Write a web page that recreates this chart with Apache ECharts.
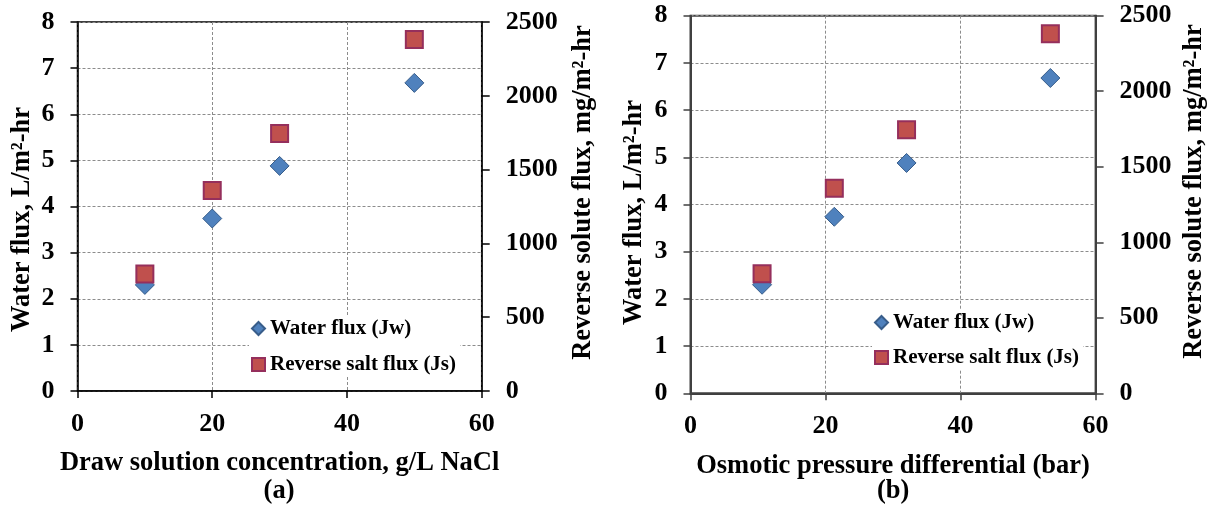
<!DOCTYPE html>
<html>
<head>
<meta charset="utf-8">
<script src="https://cdn.jsdelivr.net/npm/echarts@6/dist/echarts.min.js"></script>
<style>
html,body{margin:0;padding:0;background:#fff;}
#c{width:1212px;height:508px;}
</style>
</head>
<body>
<div id="c"></div>
<script>
// ---- data ----
var concentrationA = [10, 20, 30, 50];          // g/L NaCl
var osmoticB = [10.6, 21.3, 32.0, 53.3];        // bar
var waterFlux = [2.3, 3.74, 4.88, 6.68];        // L/m2-hr
var saltFlux = [792, 1358, 1745, 2381];         // mg/m2-hr
var seriesNames = ['Water flux (Jw)', 'Reverse salt flux (Js)'];
var xTitles = ['Draw solution concentration, g/L NaCl', 'Osmotic pressure differential (bar)'];
var panelLabels = ['(a)', '(b)'];
var yLeftTitle = 'Water flux, L/m\u00B2-hr';
var yRightTitle = 'Reverse solute flux, mg/m\u00B2-hr';

var FONT = '"Liberation Serif", "Times New Roman", serif';
function pairs(xs, ys){ return xs.map(function(x,i){ return [x, ys[i]]; }); }

var chart = echarts.init(document.getElementById('c'), null, {renderer:'canvas'});

var axisStyles = [
  {color:'#000', width:1.5},
  {color:'#404040', width:2}
];
var grids = [
  {left:77.5, right:1212-481.7, top:22, bottom:508-391},
  {left:690.5, right:1212-1095.6, top:15.7, bottom:508-393.3}
];
// per-panel title placement tweaks
var leftGap = [42, 43], rightGap = [88, 85];
var leftPad = [[0, 26, 0, 0], [0, 16, 0, 0]];
var rightPad = [[0, 0, 0, 28], [0, 0, 0, 26]];

var splitDash = {show:true, lineStyle:{color:'#8c8c8c', type:[3,2], width:1}};
var tickLabel = {fontFamily:FONT, fontWeight:'bold', fontSize:26, color:'#000'};
function titleText(pad){
  return {fontFamily:FONT, fontWeight:'bold', fontSize:26.5, color:'#000', padding:pad || 0};
}

var xAxes = [], yAxes = [];
[0,1].forEach(function(g){
  var ls = axisStyles[g];
  xAxes.push({
    type:'value', gridIndex:g, min:0, max:60, interval:20,
    axisLine:{show:true, onZero:false, lineStyle:{color:ls.color, width:ls.width}},
    axisTick:{show:true, inside:false, length:7, lineStyle:{color:ls.color, width:1.5}},
    axisLabel:Object.assign({margin:20}, tickLabel),
    splitLine:splitDash,
    name:xTitles[g], nameLocation:'middle', nameGap:59,
    nameTextStyle:titleText()
  });
  yAxes.push({
    type:'value', gridIndex:g, position:'left', min:0, max:8, interval:1,
    axisLine:{show:true, onZero:false, lineStyle:{color:ls.color, width:ls.width}},
    axisTick:{show:true, length:7, lineStyle:{color:ls.color, width:1.5}},
    axisLabel:Object.assign({margin:23}, tickLabel),
    splitLine:splitDash,
    name:yLeftTitle, nameLocation:'middle', nameRotate:90, nameGap:leftGap[g],
    nameTextStyle:titleText(leftPad[g])
  });
  yAxes.push({
    type:'value', gridIndex:g, position:'right', min:0, max:2500, interval:500,
    axisLine:{show:true, onZero:false, lineStyle:{color:ls.color, width:ls.width}},
    axisTick:{show:true, length:8, lineStyle:{color:ls.color, width:1.5}},
    axisLabel:Object.assign({margin:24, formatter:function(v){ return String(v); }}, tickLabel),
    splitLine:{show:false},
    name:yRightTitle, nameLocation:'middle', nameRotate:90, nameGap:rightGap[g],
    nameTextStyle:titleText(rightPad[g])
  });
});

var diamondStyle = {color:'#4F81BD', borderColor:'#385D8A', borderWidth:1, opacity:1};
var squareStyle = {color:'#C0504D', borderColor:'#952F5C', borderWidth:2, opacity:1};
var xData = [concentrationA, osmoticB];
var series = [];
[0,1].forEach(function(g){
  series.push({
    name:seriesNames[0], type:'scatter', xAxisIndex:g, yAxisIndex:g*2,
    symbol:'diamond', symbolSize:19, itemStyle:diamondStyle,
    data:pairs(xData[g], waterFlux), z:2
  });
  series.push({
    name:seriesNames[1], type:'scatter', xAxisIndex:g, yAxisIndex:g*2+1,
    symbol:'rect', symbolSize:17, itemStyle:squareStyle,
    data:pairs(xData[g], saltFlux), z:3
  });
});

var legendText = {fontFamily:FONT, fontWeight:'bold', fontSize:21, color:'#000'};
function legendAt(left, top, gap){
  return {orient:'vertical', left:left, top:top, itemGap:gap, itemWidth:13, itemHeight:13,
    textStyle:legendText, data:[{name:seriesNames[0], icon:'diamond'},{name:seriesNames[1], icon:'rect'}],
    selectedMode:false, backgroundColor:'#fff', padding:[2,4,2,2]};
}
chart.setOption({
  animation:false,
  backgroundColor:'#fff',
  grid:[
    Object.assign({show:true, borderColor:'#000', borderWidth:1.5, backgroundColor:'transparent'}, grids[0]),
    Object.assign({show:true, borderColor:'#404040', borderWidth:2, backgroundColor:'transparent'}, grids[1])
  ],
  xAxis:xAxes,
  yAxis:yAxes,
  legend:[legendAt(249, 316, 15), legendAt(872, 310, 14)],
  graphic:[
    {type:'text', left:279.6-16, top:478, style:{text:panelLabels[0], font:'bold 26.5px ' + FONT, fill:'#000'}},
    {type:'text', left:893-16, top:478, style:{text:panelLabels[1], font:'bold 26.5px ' + FONT, fill:'#000'}}
  ],
  series:series
});
</script>
</body>
</html>
